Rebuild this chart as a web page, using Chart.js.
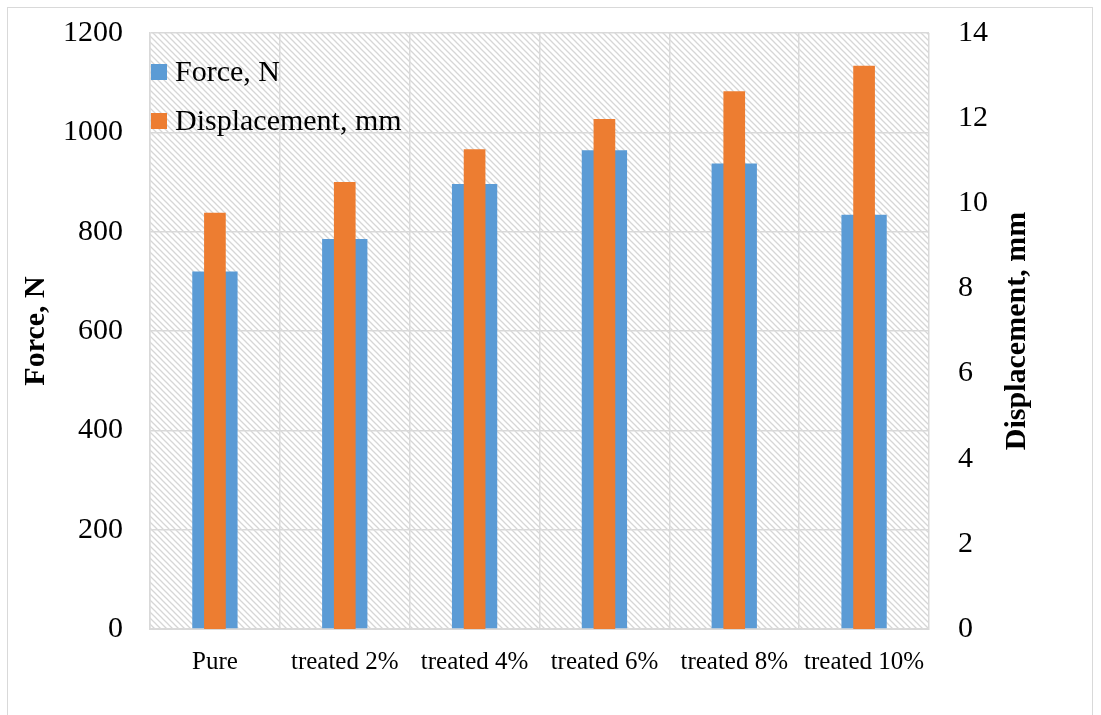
<!DOCTYPE html>
<html>
<head>
<meta charset="utf-8">
<script src="https://cdn.jsdelivr.net/npm/chart.js@4.4.1/dist/chart.umd.min.js"></script>
<style>
  html, body { margin:0; padding:0; background:#fff; }
  #wrap { position:relative; width:1101px; height:715px; overflow:hidden; }
  #frame { position:absolute; left:7px; top:7px; width:1086px; height:730px; border:1px solid #d9d9d9; box-sizing:border-box; }
  canvas { position:absolute; left:0; top:0; }
</style>
</head>
<body>
<div id="wrap">
  <div id="frame"></div>
  <canvas id="chart" width="1101" height="715"></canvas>
</div>
<script>
/* ===== Data ===== */
const categories = ["Pure", "treated 2%", "treated 4%", "treated 6%", "treated 8%", "treated 10%"];
const forceValues = [720, 785, 896, 964, 937, 834];
const displacementValues = [9.78, 10.5, 11.27, 11.98, 12.63, 13.23];
const forceTicks = [0, 200, 400, 600, 800, 1000, 1200];
const displacementTicks = [0, 2, 4, 6, 8, 10, 12, 14];
const forceLabel = "Force, N";
const displacementLabel = "Displacement, mm";

/* ===== Helpers ===== */
const SERIF = "'Liberation Serif', 'Times New Roman', serif";
const GRID = "#d9d9d9";
const BLUE = "#5B9BD5";
const ORANGE = "#ED7D31";

function hatchPattern(ctx){
  const s = 6;
  const c = document.createElement("canvas");
  c.width = s; c.height = s;
  const g = c.getContext("2d");
  g.fillStyle = "#fff"; g.fillRect(0,0,s,s);
  g.strokeStyle = "#d6d6d6"; g.lineWidth = 1.3;
  g.beginPath();
  g.moveTo(-1,-1); g.lineTo(s+1,s+1);
  g.moveTo(s-1,-1); g.lineTo(s+1,1);
  g.moveTo(-1,s-1); g.lineTo(1,s+1);
  g.stroke();
  return ctx.createPattern(c, "repeat");
}

/* background hatch, axis titles, legend */
const decor = {
  id: "decor",
  beforeDraw(chart){
    const {ctx, chartArea:a} = chart;
    ctx.save();
    ctx.fillStyle = hatchPattern(ctx);
    ctx.fillRect(a.left, a.top, a.right-a.left, a.bottom-a.top);
    ctx.restore();
  },
  afterDraw(chart){
    const {ctx, chartArea:a} = chart;
    const midY = (a.top + a.bottom) / 2;
    ctx.save();
    ctx.fillStyle = "#000";
    ctx.font = "bold 30px " + SERIF;
    ctx.textAlign = "center";
    ctx.textBaseline = "middle";
    [[36, forceLabel], [1017, displacementLabel]].forEach(([x, t])=>{
      ctx.save();
      ctx.translate(x, midY);
      ctx.rotate(-Math.PI/2);
      ctx.fillText(t, 0, 0);
      ctx.restore();
    });
    // legend inside plot
    ctx.font = "30px " + SERIF;
    ctx.textAlign = "left";
    const rows = [72, 121];
    chart.data.datasets.forEach((ds, i)=>{
      const y = rows[i];
      ctx.fillStyle = ds.backgroundColor;
      ctx.fillRect(a.left + 1, y - 8, 16, 16);
      ctx.fillStyle = "#000";
      ctx.fillText(ds.label, a.left + 25, y + 1);
    });
    ctx.restore();
  }
};

/* ===== Chart ===== */
window.addEventListener("DOMContentLoaded", ()=>{
  const ctx = document.getElementById("chart").getContext("2d");
  new Chart(ctx, {
    type: "bar",
    data: {
      labels: categories,
      datasets: [
        {
          label: forceLabel,
          data: forceValues,
          yAxisID: "y",
          backgroundColor: BLUE,
          grouped: false,
          order: 2,
          barPercentage: 0.349,
          categoryPercentage: 1
        },
        {
          label: displacementLabel,
          data: displacementValues,
          yAxisID: "y1",
          backgroundColor: ORANGE,
          grouped: false,
          order: 1,
          barPercentage: 0.167,
          categoryPercentage: 1
        }
      ]
    },
    options: {
      responsive: false,
      animation: false,
      layout: { padding: { left:0, right:0, top:33, bottom:0 } },
      plugins: { legend: { display:false }, tooltip: { enabled:false } },
      scales: {
        x: {
          grid: { color: GRID, lineWidth: 1.5, drawTicks: false, offset: true },
          border: { color: GRID, width: 2 },
          ticks: { color: "#000", font: { family: SERIF, size: 25 }, padding: 18, maxRotation: 0 },
          afterFit: (s)=>{ s.height = 86; }
        },
        y: {
          position: "left",
          min: 0, max: 1200,
          afterBuildTicks: (s)=>{ s.ticks = forceTicks.map(v=>({value:v})); },
          grid: { color: GRID, lineWidth: 1.5, drawTicks: false },
          border: { color: GRID, width: 1.5 },
          ticks: { color: "#000", font: { family: SERIF, size: 30, lineHeight: 0.2 }, padding: 27, callback: (v)=>String(v) },
          afterFit: (s)=>{ s.width = 150; }
        },
        y1: {
          position: "right",
          min: 0, max: 14,
          afterBuildTicks: (s)=>{ s.ticks = displacementTicks.map(v=>({value:v})); },
          grid: { display: false, drawTicks: false },
          border: { display: false },
          ticks: { color: "#000", font: { family: SERIF, size: 30, lineHeight: 0.2 }, padding: 29, callback: (v)=>String(v) },
          afterFit: (s)=>{ s.width = 172; }
        }
      }
    },
    plugins: [decor]
  });
});
</script>
</body>
</html>
